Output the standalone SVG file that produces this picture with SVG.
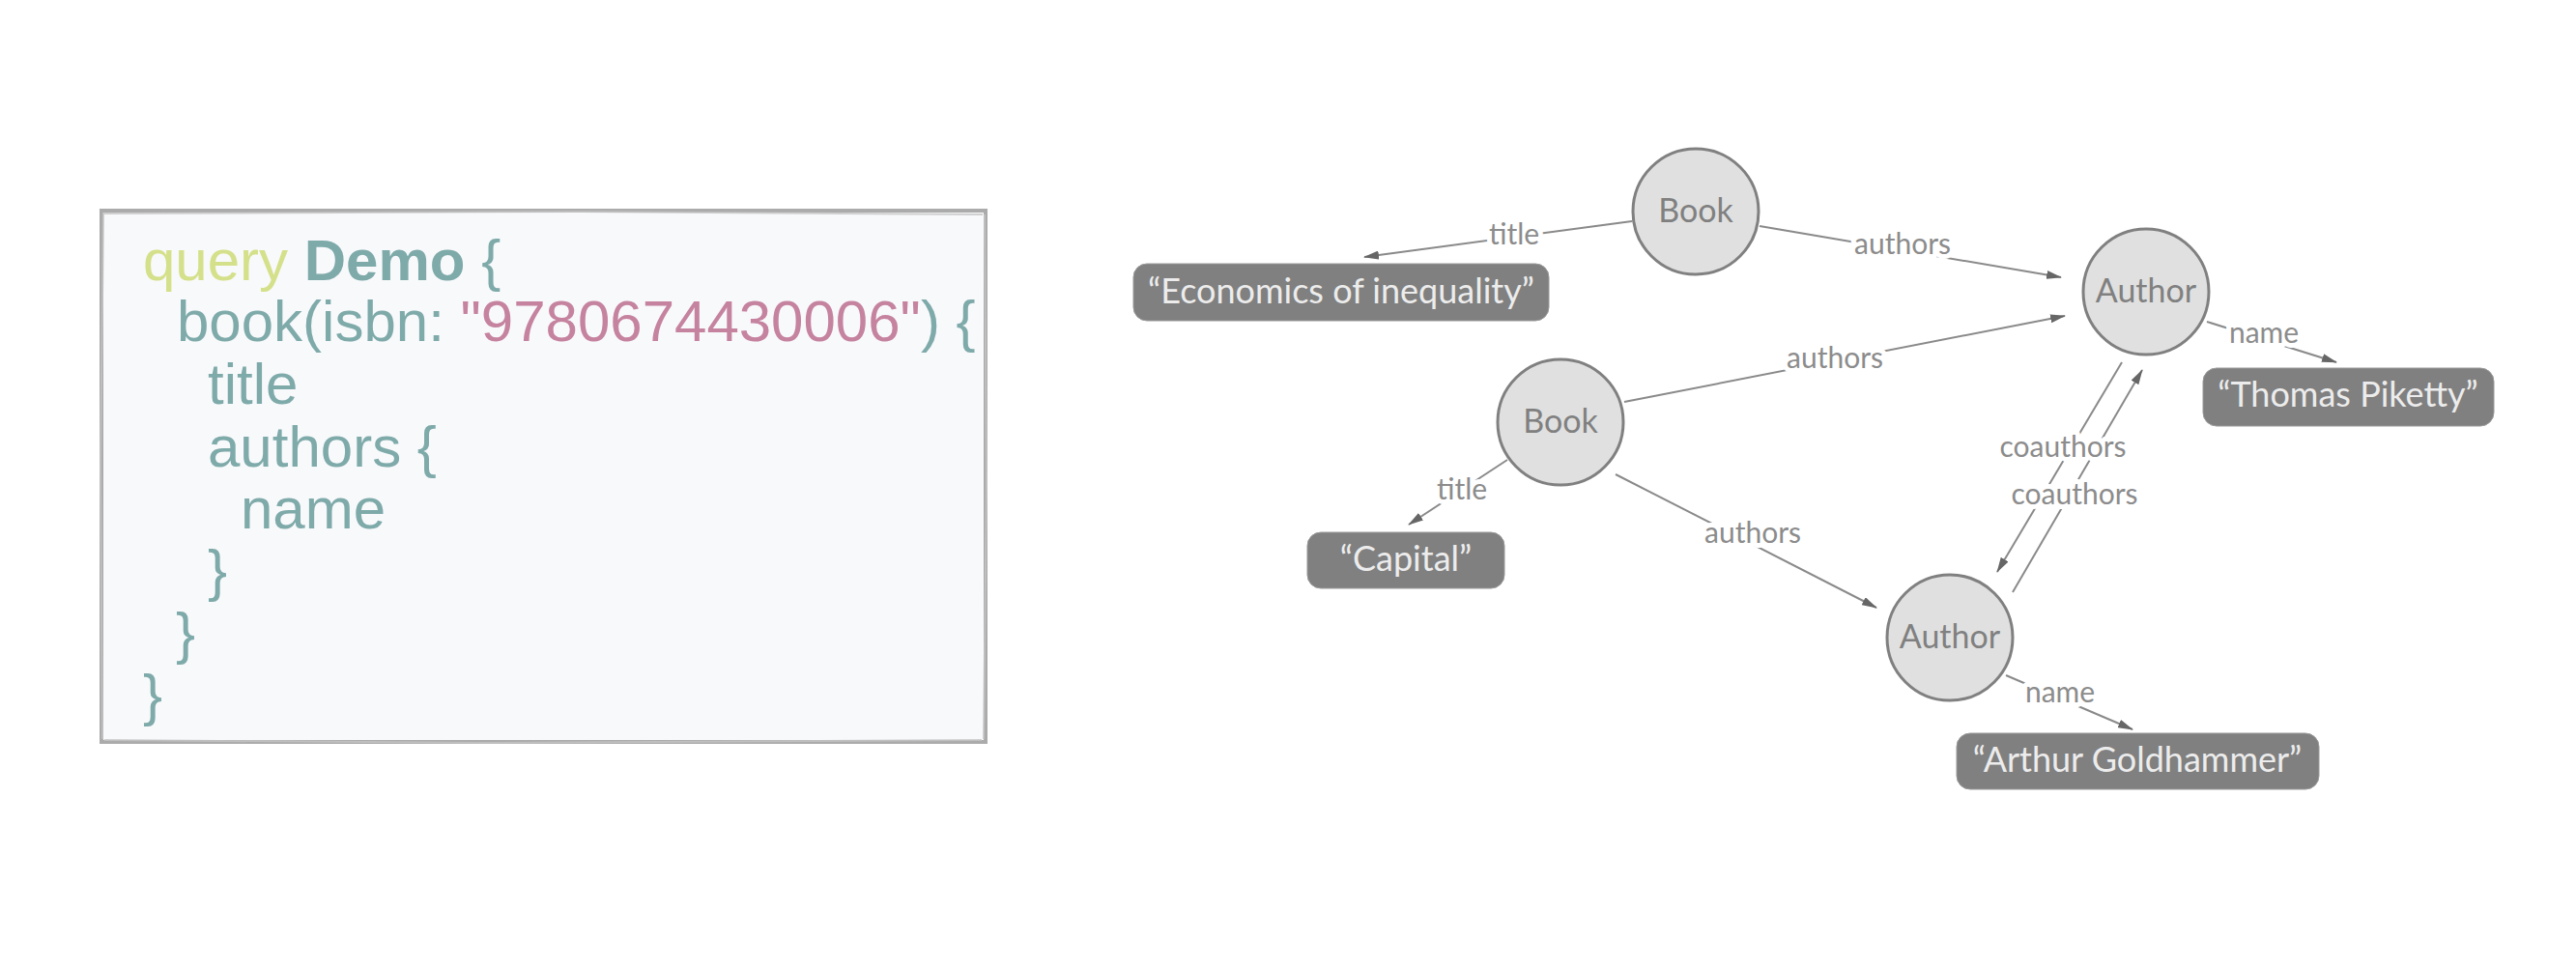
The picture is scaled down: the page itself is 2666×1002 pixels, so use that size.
<svg xmlns="http://www.w3.org/2000/svg" width="2666" height="1002" viewBox="0 0 2666 1002">
  <style>
    .code { font-family: "Liberation Sans", Arial, sans-serif; font-size: 60px; fill: #7faaaa; }
    .kw { fill: #d5e08a; }
    .str { fill: #c5839f; }
    .bold { font-weight: bold; }
    .node circle { fill: #e0e0e0; stroke: #808080; stroke-width: 3; }
    .node .lbl { font-family: Lato, "Noto Sans", sans-serif; font-size: 34px; fill: #808080; text-anchor: middle; }
    .val rect { fill: #808080; stroke: #9a9a9a; stroke-width: 1; }
    .val text { font-family: Lato, "Noto Sans", sans-serif; font-size: 36px; fill: #ececec; text-anchor: middle; }
    .edge line { stroke: #8a8a8a; stroke-width: 2; marker-end: url(#arrow); }
    .elabel { font-family: Lato, "Noto Sans", sans-serif; font-size: 30px; fill: #8c8c8c; text-anchor: middle; stroke: #ffffff; stroke-width: 10; paint-order: stroke; stroke-linejoin: round; }
  </style>
  <defs>
    <marker id="arrow" markerUnits="userSpaceOnUse" markerWidth="16" markerHeight="9" refX="15" refY="4.5" orient="auto">
      <path d="M0,0 L16,4.5 L0,9 Z" fill="#666666"/>
    </marker>
  </defs>

  <rect width="2666" height="1002" fill="#ffffff"/>

  <!-- Code box -->
  <g id="code-box">
    <rect x="105" y="218" width="915" height="550" fill="#f8f9fb" stroke="#ababab" stroke-width="4"/>
    <path d="M108,221 L600,219 L1017,222 M1019,222 L1021,500 L1018,765 M1016,766 L500,769 L108,766 M106,765 L104,480 L107,220" fill="none" stroke="#c4c4c4" stroke-width="2" opacity="0.8"/>
    <text class="code" x="148" y="290"><tspan class="kw">query</tspan> <tspan class="bold">Demo</tspan> {</text>
    <text class="code" x="183" y="353">book(isbn: <tspan class="str">"9780674430006"</tspan>) {</text>
    <text class="code" x="215" y="418">title</text>
    <text class="code" x="215" y="483">authors {</text>
    <text class="code" x="249" y="547">name</text>
    <text class="code" x="215" y="611">}</text>
    <text class="code" x="182" y="676">}</text>
    <text class="code" x="148" y="740">}</text>
  </g>

  <!-- Connectors -->
  <g id="connectors" class="edge">
    <line x1="1689" y1="229" x2="1412" y2="266"/>
    <line x1="1821" y1="234" x2="2133" y2="287"/>
    <line x1="1681" y1="416" x2="2137" y2="327"/>
    <line x1="1560" y1="476" x2="1458" y2="543"/>
    <line x1="1672" y1="491" x2="1942" y2="629"/>
    <line x1="2196" y1="375" x2="2067" y2="592"/>
    <line x1="2083" y1="613" x2="2217" y2="383"/>
    <line x1="2284" y1="333" x2="2418" y2="375"/>
    <line x1="2076" y1="699" x2="2207" y2="755"/>
    <text class="elabel" x="1567" y="253">title</text>
    <text class="elabel" x="1969" y="263">authors</text>
    <text class="elabel" x="1899" y="381">authors</text>
    <text class="elabel" x="1513" y="517">title</text>
    <text class="elabel" x="1814" y="562">authors</text>
    <text class="elabel" x="2135" y="473">coauthors</text>
    <text class="elabel" x="2147" y="522">coauthors</text>
    <text class="elabel" x="2343" y="355">name</text>
    <text class="elabel" x="2132" y="727">name</text>
  </g>

  <!-- Nodes -->
  <g id="book1" class="node">
    <circle cx="1755" cy="219" r="65"/>
    <text class="lbl" x="1755" y="230">Book</text>
  </g>
  <g id="book2" class="node">
    <circle cx="1615" cy="437" r="65"/>
    <text class="lbl" x="1615" y="448">Book</text>
  </g>
  <g id="author1" class="node">
    <circle cx="2221" cy="302" r="65"/>
    <text class="lbl" x="2221" y="313">Author</text>
  </g>
  <g id="author2" class="node">
    <circle cx="2018" cy="660" r="65"/>
    <text class="lbl" x="2018" y="671">Author</text>
  </g>

  <!-- Values -->
  <g id="val-economics" class="val">
    <rect x="1173" y="273" width="430" height="59" rx="14"/>
    <text x="1388" y="314">“Economics of inequality”</text>
  </g>
  <g id="val-capital" class="val">
    <rect x="1353" y="551" width="204" height="58" rx="14"/>
    <text x="1455" y="591">“Capital”</text>
  </g>
  <g id="val-piketty" class="val">
    <rect x="2280" y="381" width="301" height="60" rx="14"/>
    <text x="2430" y="421">“Thomas Piketty”</text>
  </g>
  <g id="val-goldhammer" class="val">
    <rect x="2025" y="759" width="375" height="58" rx="14"/>
    <text x="2212" y="799">“Arthur Goldhammer”</text>
  </g>
</svg>
